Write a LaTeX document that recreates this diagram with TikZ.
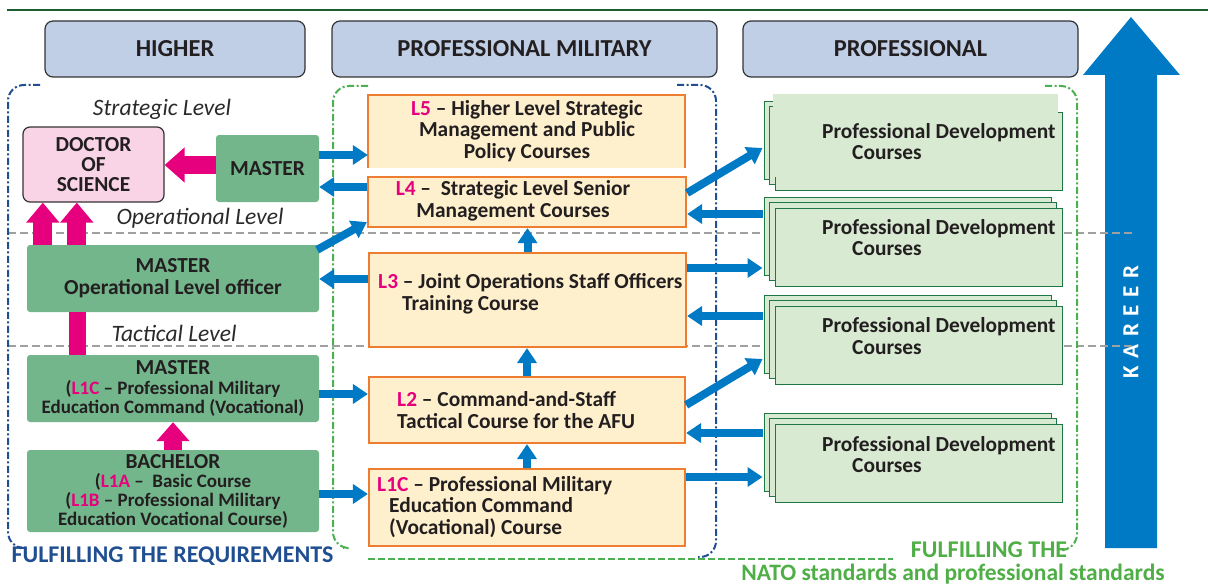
\documentclass[tikz,border=0pt]{standalone}
\usepackage{fontspec}
\setmainfont{Carlito}
\usetikzlibrary{arrows.meta,calc}
\definecolor{txt}{HTML}{231F20}
\definecolor{topline}{HTML}{1B5E30}
\definecolor{hdrfill}{HTML}{C0CFE6}
\definecolor{hdrborder}{HTML}{333333}
\definecolor{docfill}{HTML}{F8D4E6}
\definecolor{gfill}{HTML}{73B68C}
\definecolor{ofill}{HTML}{FFF0CD}
\definecolor{oborder}{HTML}{ED7D31}
\definecolor{pdfill}{HTML}{D8EAD2}
\definecolor{pdborder}{HTML}{1E7846}
\definecolor{bluec}{HTML}{007AC4}
\definecolor{darkblue}{HTML}{1F4E91}
\definecolor{greendash}{HTML}{4CAF50}
\definecolor{greentext}{HTML}{4FAE46}
\definecolor{pinkc}{HTML}{E6007E}
\definecolor{grayline}{HTML}{A0A0A0}
\definecolor{lvlc}{HTML}{2A2A2A}
\newcommand\pinkL[1]{\textcolor{pinkc}{#1}}
\begin{document}
\begin{tikzpicture}[x=1pt,y=-1pt,
  hdr/.style={draw=hdrborder, fill=hdrfill, rounded corners=8pt, line width=1.2pt, inner sep=0pt, font=\fontsize{24.4}{25}\selectfont\bfseries, text=txt},
  gbox/.style={fill=gfill, rounded corners=3pt, inner sep=0pt, align=center, font=\bfseries\fontsize{21.4}{21.5}\selectfont, text=txt},
  obox/.style={draw=oborder, fill=ofill, line width=2.2pt, inner sep=0pt},
  pdbox/.style={draw=pdborder, fill=pdfill, line width=1pt, minimum width=287pt, minimum height=78pt, inner sep=0pt},
  ttext/.style={font=\bfseries\fontsize{21.4}{21.5}\selectfont, text=txt, inner sep=0pt, align=left},
  barrow/.style={draw=bluec, line width=8pt, -{Triangle[length=15pt,width=19pt]}},
  parrow/.style={draw=pinkc, line width=18pt, -{Triangle[length=20pt,width=34pt]}},
  lvl/.style={font=\itshape\fontsize{23.5}{24}\selectfont, text=lvlc, inner sep=0pt},
  bracketblue/.style={draw=darkblue, line width=2pt, dash pattern=on 7pt off 2.5pt on 2pt off 2.5pt, rounded corners=16pt},
  bracketgreen/.style={draw=greendash, line width=2pt, dash pattern=on 7pt off 2.5pt on 2pt off 2.5pt, rounded corners=16pt},
  grayl/.style={draw=grayline, line width=2pt, dash pattern=on 8pt off 4pt},
  bottomtext/.style={font=\bfseries\fontsize{24}{24}\selectfont, inner sep=0pt}
]
\useasboundingbox (0,0) rectangle (1208,586);

% top line
\draw[topline, line width=2.5pt] (7,10) -- (1208,10);

% KAREER arrow
\fill[bluec] (1131,17) -- (1180,75) -- (1157,75) -- (1157,548) -- (1105,548) -- (1105,75) -- (1083,75) -- cycle;
\node[rotate=90, text=white, font=\bfseries\fontsize{23}{23}\selectfont, inner sep=0pt] (kar) at (1131,322) {K\hspace{7.5pt}A\hspace{7.5pt}R\hspace{7.5pt}E\hspace{7.5pt}E\hspace{7.5pt}R};

% level dashed lines
\draw[grayl] (8,233) -- (1133,233);
\draw[grayl] (8,346) -- (1133,346);

% brackets
\draw[bracketblue] (40,85) -- (8,85) -- (8,548) -- (18,548);
\draw[bracketblue] (677,85) -- (716,85) -- (716,557) -- (698,557);
\draw[bracketgreen] (368,86) -- (333,86) -- (333,548) -- (343,548);
\draw[bracketgreen] (1045,86) -- (1077,86) -- (1077,550) -- (1067,550);
\draw[draw=greendash, line width=2pt, dash pattern=on 7pt off 3pt] (368,559) -- (893,559);

% headers
\node[hdr, minimum width=260pt, minimum height=56pt] (hHigher) at (175,49) {HIGHER};
\node[hdr, minimum width=385pt, minimum height=56pt] (hPM) at (524.5,49) {PROFESSIONAL MILITARY};
\node[hdr, minimum width=335pt, minimum height=56pt] (hProf) at (910.5,49) {PROFESSIONAL};

% level labels
\node[lvl] (lstrat) at (162,109) {Strategic Level};
\node[lvl] (loper) at (200,218) {Operational Level};
\node[lvl] (ltact) at (174,333) {Tactical Level};

% left column
\node[draw=hdrborder, fill=docfill, rounded corners=7pt, line width=1.2pt, inner sep=0pt, align=center,
      font=\bfseries\fontsize{21.4}{20}\selectfont, text=txt, minimum width=141pt, minimum height=75pt] (doc) at (93.5,164.5) {DOCTOR\\OF\\SCIENCE};
\node[gbox, minimum width=103pt, minimum height=67pt] (mtop) at (267.5,168.5) {MASTER};
\node[gbox, minimum width=292pt, minimum height=67pt, font=\bfseries\fontsize{21.4}{22}\selectfont] (mop) at (173,278.5) {MASTER\\Operational Level officer};
\node[gbox, minimum width=292pt, minimum height=67pt, font=\bfseries\fontsize{19}{19.5}\selectfont] (ml1c) at (173,388.5)
  {{\fontsize{21.4}{20}\selectfont MASTER}\\(\pinkL{L1C} – Professional Military\\Education Command (Vocational)};
\node[gbox, minimum width=292pt, minimum height=82pt, font=\bfseries\fontsize{19}{19}\selectfont] (bach) at (173,491)
  {{\fontsize{21.4}{19}\selectfont BACHELOR}\\(\pinkL{L1A} –\ \ Basic Course\\(\pinkL{L1B} – Professional Military\\Education Vocational Course)};

% orange boxes
\node[fill=ofill, inner sep=0pt, minimum width=317pt, minimum height=73pt] (l5) at (526.5,131.5) {};
\draw[oborder, line width=2.2pt] (l5.south west) -- (l5.north west) -- (l5.north east) -- (l5.south east);
\node[ttext, align=center] (l5t) at (527,131) {\pinkL{L5} – Higher Level Strategic\\Management and Public\\Policy Courses};
\node[obox, minimum width=318pt, minimum height=50pt] (l4) at (527,202) {};
\node[ttext, align=center] (l4t) at (513,201) {\pinkL{L4} –\ \ Strategic Level Senior\\Management Courses};
\node[obox, minimum width=317pt, minimum height=94pt] (l3) at (527.5,300) {};
\node[ttext, anchor=west] (l3t) at (378,294) {\pinkL{L3} – Joint Operations Staff Officers\\\hspace*{24pt}Training Course};
\node[obox, minimum width=316pt, minimum height=66pt] (l2) at (527,410) {};
\node[ttext, anchor=west] (l2t) at (397,410) {\pinkL{L2} – Command-and-Staff\\Tactical Course for the AFU};
\node[obox, minimum width=316pt, minimum height=77pt] (l1c) at (527,507.5) {};
\node[ttext, anchor=west] (l1ct) at (377,507) {\pinkL{L1C} – Professional Military\\\hspace*{12pt}Education Command\\\hspace*{12pt}(Vocational) Course};

% professional development boxes
\node[pdbox] (pd1a) at (907.5,140) {};
\node[pdbox] (pd1b) at (912.5,145.5) {};
\node[pdbox] (pd1c) at (918.5,151.5) {};
\node[fill=pdfill, inner sep=0pt, minimum width=285pt, minimum height=83pt] (pd1f) at (915.5,135.5) {};
\node[ttext, anchor=west] (pd1t) at (822,141.5) {Professional Development\\\hspace*{30pt}Courses};

\node[pdbox] (pd2a) at (907.5,236) {};
\node[pdbox] (pd2b) at (912.5,241.5) {};
\node[pdbox] (pd2c) at (918.5,247.5) {};
\node[ttext, anchor=west] (pd2t) at (822,237.5) {Professional Development\\\hspace*{30pt}Courses};

\node[pdbox] (pd3a) at (907.5,334) {};
\node[pdbox] (pd3b) at (912.5,339.5) {};
\node[pdbox] (pd3c) at (918.5,345.5) {};
\node[ttext, anchor=west] (pd3t) at (822,336) {Professional Development\\\hspace*{30pt}Courses};

\node[pdbox] (pd4a) at (907.5,452) {};
\node[pdbox] (pd4b) at (912.5,457.5) {};
\node[pdbox] (pd4c) at (918.5,463.5) {};
\node[ttext, anchor=west] (pd4t) at (822,454.5) {Professional Development\\\hspace*{30pt}Courses};

% blue arrows
\coordinate (a1) at ($(mtop.east)+(0,-13.5)$);
\draw[barrow] (a1) -- (a1 -| l5.west);
\coordinate (a2) at ($(l4.west)+(0,-15)$);
\draw[barrow] (a2) -- (a2 -| mtop.east);
\draw[barrow] ($(mop.north east)+(-2,5)$) -- ($(l4.south west)+(0,-6)$);
\coordinate (a4) at ($(l3.west)+(0,-21)$);
\draw[barrow] (a4) -- (a4 -| mop.east);
\coordinate (a5) at ($(ml1c.east)+(0,5.5)$);
\draw[barrow] (a5) -- (a5 -| l2.west);
\coordinate (a6) at ($(bach.east)+(0,3)$);
\draw[barrow] (a6) -- (a6 -| l1c.west);
\draw[barrow] (l3.north) -- (l3.north |- l4.south);
\draw[barrow] (l2.north) -- (l2.north |- l3.south);
\draw[barrow] (l1c.north) -- (l1c.north |- l2.south);
\draw[barrow] ($(l4.east)+(0,-9)$) -- ($(pd1a.west)+(-1,8)$);
\coordinate (a11) at ($(pd2a.west)+(-1,-22)$);
\draw[barrow] (a11) -- (a11 -| l4.east);
\coordinate (a12) at ($(l3.east)+(0,-32)$);
\draw[barrow] (a12) -- ($(a12 -| pd2a.west)+(-1,0)$);
\coordinate (a13) at ($(pd3a.west)+(-1,-18)$);
\draw[barrow] (a13) -- (a13 -| l3.east);
\draw[barrow] ($(l2.east)+(0,-5)$) -- ($(pd3a.west)+(-1,25)$);
\coordinate (a15) at ($(pd4a.west)+(-1,-19)$);
\draw[barrow] (a15) -- (a15 -| l2.east);
\coordinate (a16) at ($(l1c.east)+(0,-30.5)$);
\draw[barrow] (a16) -- ($(a16 -| pd4a.west)+(-1,0)$);

% pink arrows
\coordinate (p1) at ($(mtop.west)+(0,-3.5)$);
\draw[parrow] (p1) -- (p1 -| doc.east);
\coordinate (p2) at ($(mop.north west)+(16,0)$);
\draw[parrow, line width=19pt, -{Triangle[length=20pt,width=32pt]}] (p2) -- (p2 |- doc.south);
\coordinate (p3) at ($(mop.north west)+(50,0)$);
\draw[parrow, line width=19pt, -{Triangle[length=20pt,width=32pt]}] (p3) -- (p3 |- doc.south);
\coordinate (p4) at ($(ml1c.north west)+(51,0)$);
\draw[draw=pinkc, line width=17pt] (p4) -- (p4 |- mop.south);
\draw[parrow, -{Triangle[length=19pt,width=32pt]}] (bach.north) -- (ml1c.south);

% bottom texts
\node[bottomtext, text=darkblue] (freq) at (172.5,556) {FULFILLING THE REQUIREMENTS};
\node[bottomtext, text=greentext] (fthe) at (989,550) {FULFILLING THE};
\node[bottomtext, text=greentext, font=\bfseries\fontsize{23.5}{24}\selectfont] (fnato) at (953,574.2) {NATO standards and professional standards};
\end{tikzpicture}
\end{document}
